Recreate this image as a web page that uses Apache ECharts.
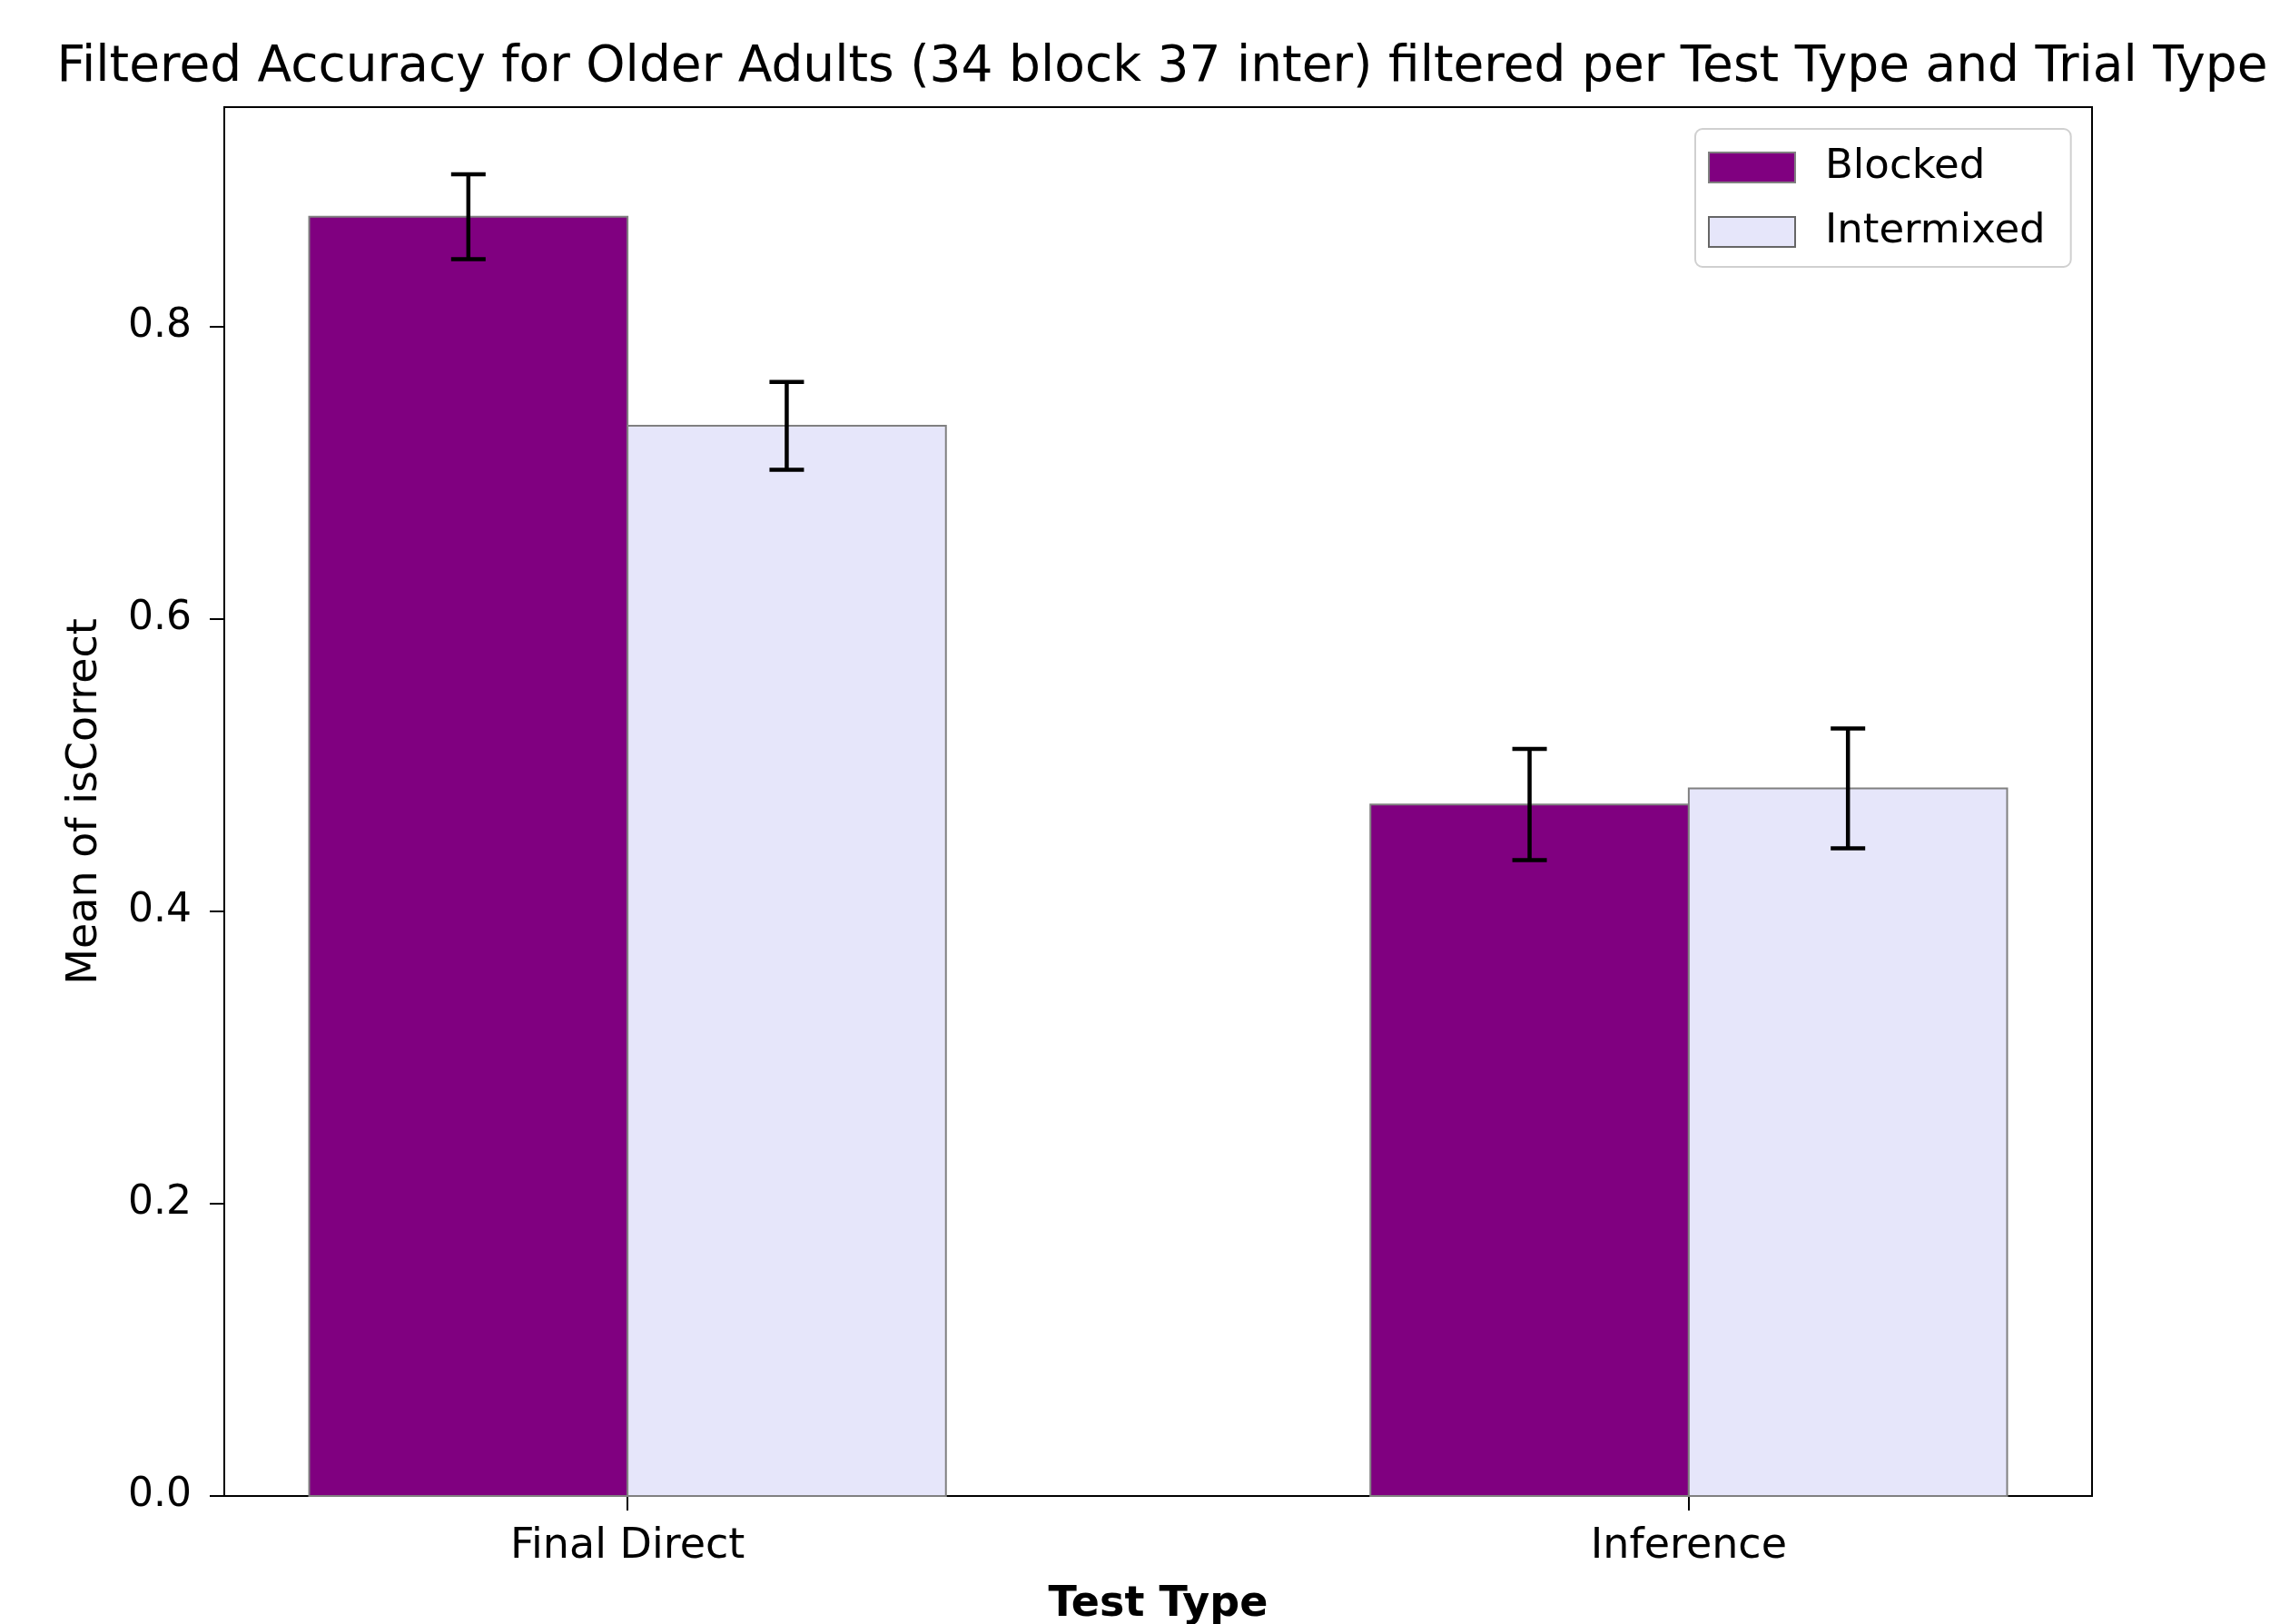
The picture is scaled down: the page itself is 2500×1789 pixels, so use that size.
<!DOCTYPE html>
<html>
<head>
<meta charset="utf-8">
<script src="https://cdn.jsdelivr.net/npm/echarts@6/dist/echarts.min.js"></script>
<style>
  html, body { margin: 0; padding: 0; background: #fff; }
  #chart { width: 2500px; height: 1789px; }
</style>
</head>
<body>
<div id="chart"></div>
<script>
// ---- data ----
const categories = ['Final Direct', 'Inference'];
const seriesNames = ['Blocked', 'Intermixed'];
const blockedMeans = [0.875, 0.473];
const blockedErr = [0.029, 0.038];
const intermixedMeans = [0.732, 0.484];
const intermixedErr = [0.030, 0.041];
const yTicks = [0, 0.2, 0.4, 0.6, 0.8];

// ---- styling / layout constants ----
const BAR_W = 0.3;
const FONT = 'DejaVu Sans';
const colors = { Blocked: '#800080', Intermixed: '#E6E6FA' };
const edge = '#808080';

function barSeries(name, means, offset) {
  return {
    type: 'custom',
    name: name,
    itemStyle: { color: colors[name], borderColor: edge, borderWidth: 2 },
    data: means.map((v, i) => [i, v]),
    encode: { x: 0, y: 1 },
    z: 2,
    renderItem: function (params, api) {
      const i = api.value(0), v = api.value(1);
      const p0 = api.coord([i + offset - BAR_W / 2, v]);
      const p1 = api.coord([i + offset + BAR_W / 2, 0]);
      return {
        type: 'rect',
        shape: { x: p0[0], y: p0[1], width: p1[0] - p0[0], height: p1[1] - p0[1] },
        style: { fill: colors[name], stroke: edge, lineWidth: 2 }
      };
    }
  };
}

function errSeries(name, means, errs, offset) {
  return {
    type: 'custom',
    name: name + ' err',
    data: means.map((v, i) => [i, v, errs[i]]),
    encode: { x: 0, y: 1 },
    z: 5,
    silent: true,
    renderItem: function (params, api) {
      const i = api.value(0), v = api.value(1), e = api.value(2);
      const top = api.coord([i + offset, v + e]);
      const bot = api.coord([i + offset, v - e]);
      const cap = 19;
      const st = { stroke: '#000', lineWidth: 4.5 };
      return {
        type: 'group',
        children: [
          { type: 'line', shape: { x1: top[0], y1: top[1], x2: bot[0], y2: bot[1] }, style: st },
          { type: 'line', shape: { x1: top[0] - cap, y1: top[1], x2: top[0] + cap, y2: top[1] }, style: st },
          { type: 'line', shape: { x1: bot[0] - cap, y1: bot[1], x2: bot[0] + cap, y2: bot[1] }, style: st }
        ]
      };
    }
  };
}

const chart = echarts.init(document.getElementById('chart'), null, { renderer: 'canvas' });
const option = {
  backgroundColor: '#ffffff',
  animation: false,
  title: {
    text: 'Filtered Accuracy for Older Adults (34 block 37 inter) filtered per Test Type and Trial Type',
    left: 1275,
    textAlign: 'center',
    top: 42,
    textStyle: { fontFamily: FONT, fontSize: 55, fontWeight: 'normal', color: '#000' }
  },
  legend: {
    orient: 'vertical',
    left: 1867,
    top: 142,
    padding: [20, 28, 16, 14],
    itemWidth: 95,
    itemHeight: 33,
    itemGap: 26,
    icon: 'rect',
    backgroundColor: '#fff',
    borderColor: '#d0d0d0',
    borderWidth: 2,
    borderRadius: 8,
    textStyle: { fontFamily: FONT, fontSize: 45, color: '#000', lineHeight: 33, padding: [0, 0, 0, 28] },
    data: [
      { name: 'Blocked', itemStyle: { color: colors.Blocked, borderColor: edge, borderWidth: 2 } },
      { name: 'Intermixed', itemStyle: { color: colors.Intermixed, borderColor: '#666', borderWidth: 2 } }
    ]
  },
  grid: {
    left: 247, right: 196, top: 118, bottom: 141,
    outerBoundsMode: 'none',
    containLabel: false,
    show: true, borderColor: '#000', borderWidth: 2, backgroundColor: 'transparent'
  },
  xAxis: {
    type: 'value',
    min: -0.38,
    max: 1.38,
    name: 'Test Type',
    nameLocation: 'middle',
    nameGap: 97,
    nameTextStyle: { fontFamily: FONT, fontSize: 46, fontWeight: 'bold', color: '#000' },
    axisLine: { show: true, onZero: false, lineStyle: { color: '#000', width: 2 } },
    axisTick: { show: true, length: 16, lineStyle: { color: '#000', width: 2 }, customValues: [0, 1] },
    axisLabel: {
      fontFamily: FONT, fontSize: 46, color: '#000', margin: 33,
      customValues: [0, 1],
      formatter: function (v) { return categories[Math.round(v)]; }
    },
    splitLine: { show: false }
  },
  yAxis: {
    type: 'value',
    min: 0,
    max: 0.95,
    interval: 0.2,
    name: 'Mean of isCorrect',
    nameLocation: 'middle',
    nameGap: 130,
    nameTextStyle: { fontFamily: FONT, fontSize: 46, color: '#000' },
    axisLine: { show: true, onZero: false, lineStyle: { color: '#000', width: 2 } },
    axisTick: { show: true, length: 16, lineStyle: { color: '#000', width: 2 }, customValues: yTicks },
    axisLabel: {
      fontFamily: FONT, fontSize: 44, color: '#000', margin: 36,
      customValues: yTicks,
      formatter: function (v) { return v.toFixed(1); }
    },
    splitLine: { show: false }
  },
  series: [
    barSeries('Blocked', blockedMeans, -BAR_W / 2),
    barSeries('Intermixed', intermixedMeans, BAR_W / 2),
    errSeries('Blocked', blockedMeans, blockedErr, -BAR_W / 2),
    errSeries('Intermixed', intermixedMeans, intermixedErr, BAR_W / 2)
  ]
};
chart.setOption(option);
</script>
</body>
</html>
